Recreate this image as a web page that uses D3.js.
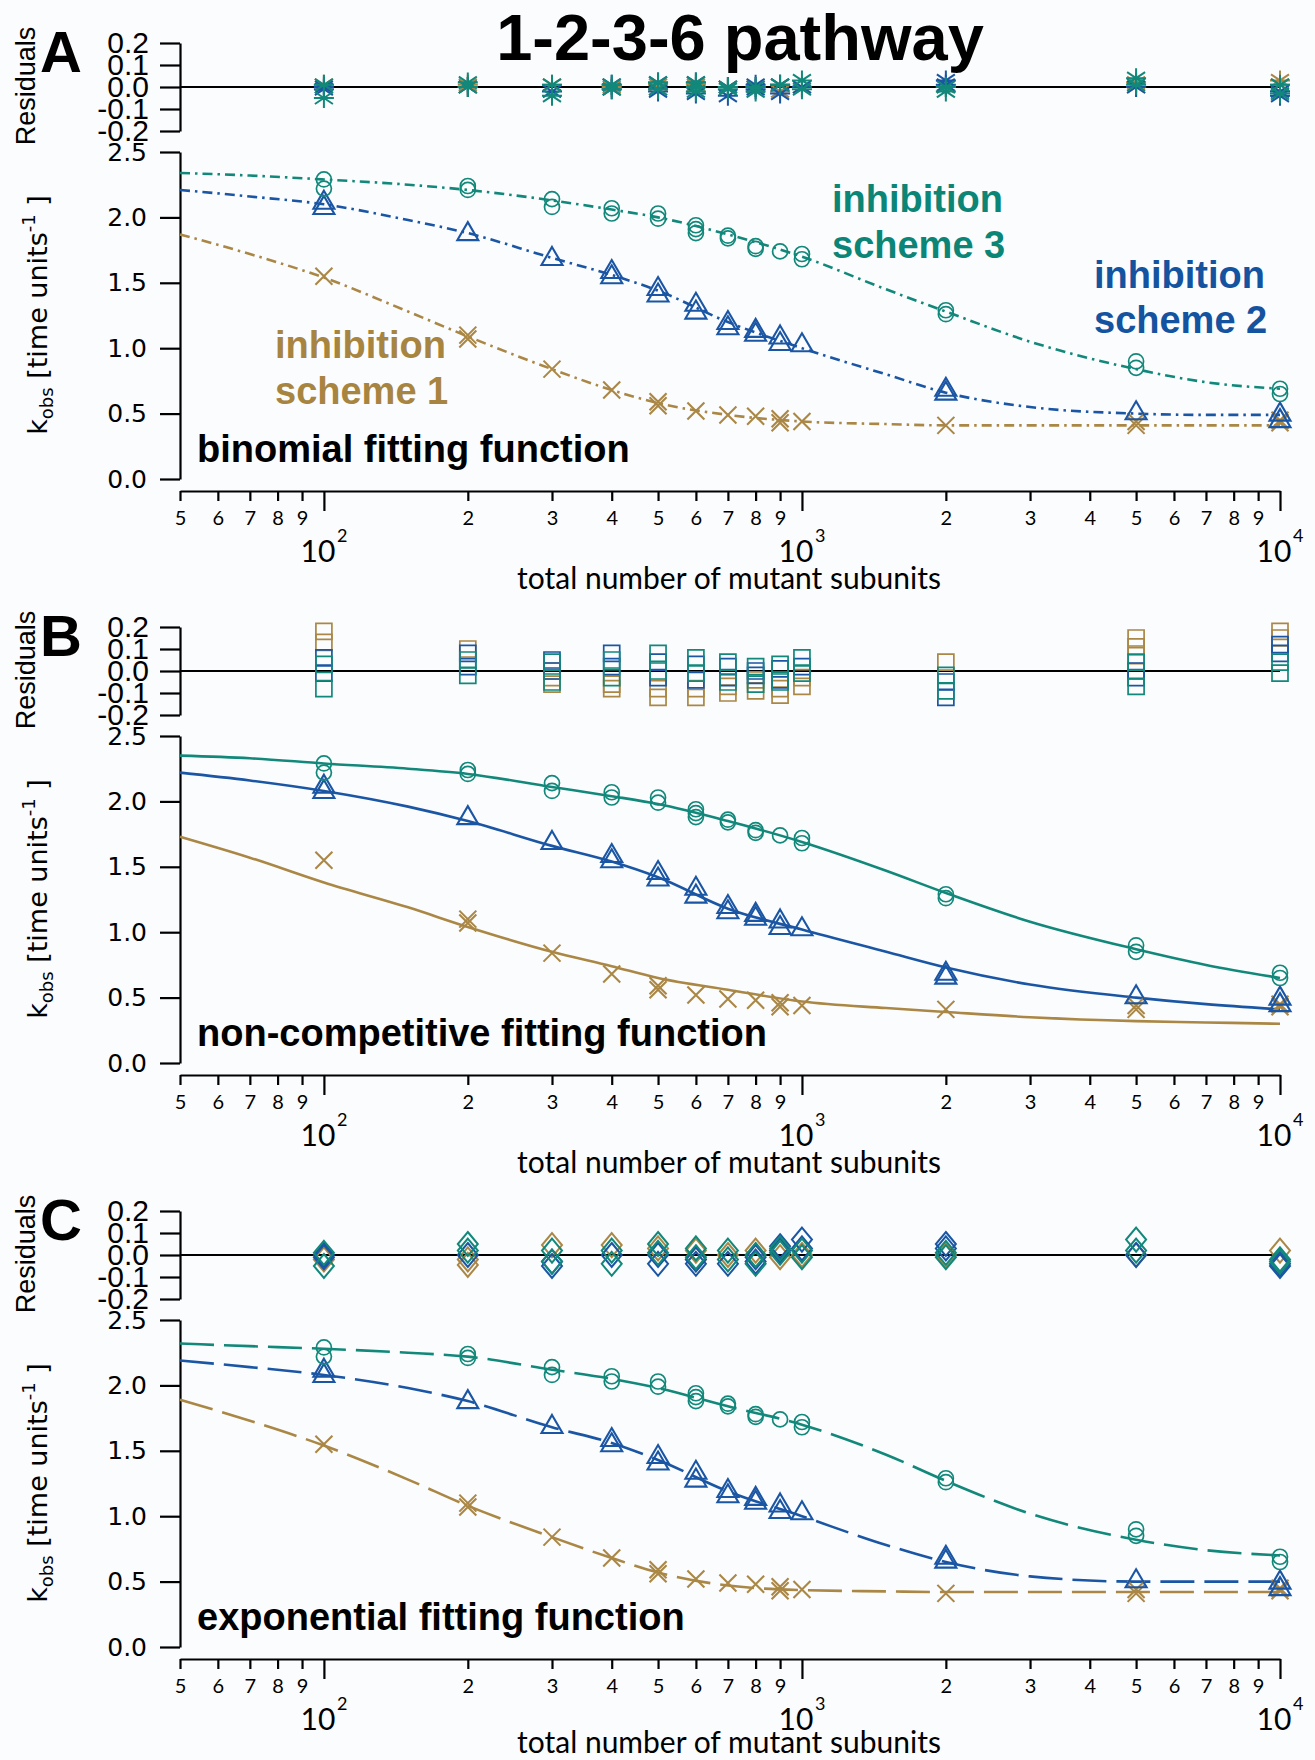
<!DOCTYPE html>
<html><head><meta charset="utf-8">
<script src="https://cdn.jsdelivr.net/npm/d3@7"></script>
<style>body{margin:0;background:#fbfcfe}svg{display:block}</style>
</head><body>
<svg id="c" width="1315" height="1760"></svg>
<script>
// ---------------- DATA ----------------
const xValues = [100, 200, 300, 400, 500, 600, 700, 800, 900, 1000, 2000, 5000, 10000];

// observed k_obs (replicates) per x, per inhibition scheme
const kobsScheme1 = [[1.55],[1.10,1.07],[0.84],[0.68],[0.59,0.56],[0.52],[0.49],[0.48],[0.46,0.43],[0.44],[0.41],[0.44,0.41],[0.45,0.43]];
const kobsScheme2 = [[2.12,2.08],[1.88],[1.69],[1.59,1.55],[1.46,1.41],[1.34,1.28],[1.20,1.16],[1.14,1.11],[1.09,1.04],[1.03],[0.69,0.66],[0.51],[0.50,0.45]];
const kobsScheme3 = [[2.29,2.22],[2.24,2.21],[2.14,2.08],[2.07,2.03],[2.03,1.99],[1.94,1.91,1.88],[1.86,1.84],[1.78,1.76],[1.74],[1.72,1.68],[1.29,1.26],[0.90,0.85],[0.69,0.65]];

// fitted curves, read at these x positions
const fitX = [50, 70, 100, 150, 200, 300, 400, 500, 700, 1000, 1500, 2000, 3000, 5000, 7000, 10000];
const fitBinomial1 = [1.87,1.72,1.54,1.28,1.09,0.84,0.68,0.58,0.49,0.44,0.42,0.41,0.41,0.41,0.41,0.41];
const fitBinomial2 = [2.21,2.16,2.10,1.98,1.88,1.69,1.56,1.44,1.20,1.00,0.80,0.66,0.55,0.50,0.49,0.49];
const fitBinomial3 = [2.34,2.32,2.29,2.25,2.21,2.13,2.06,2.00,1.87,1.70,1.45,1.28,1.05,0.84,0.74,0.69];
const fitNoncomp1 = [1.73,1.57,1.38,1.19,1.04,0.85,0.74,0.65,0.56,0.47,0.42,0.39,0.35,0.32,0.31,0.30];
const fitNoncomp2 = [2.22,2.16,2.08,1.96,1.85,1.66,1.54,1.42,1.18,1.02,0.85,0.73,0.60,0.50,0.45,0.41];
const fitNoncomp3 = [2.35,2.33,2.29,2.25,2.21,2.11,2.04,1.98,1.85,1.69,1.47,1.30,1.08,0.87,0.75,0.65];
const fitExp1 = [1.89,1.73,1.54,1.28,1.08,0.84,0.68,0.57,0.47,0.435,0.425,0.42,0.42,0.42,0.42,0.42];
const fitExp2 = [2.19,2.14,2.08,1.98,1.88,1.68,1.56,1.43,1.19,1.00,0.78,0.65,0.54,0.50,0.50,0.50];
const fitExp3 = [2.32,2.30,2.28,2.25,2.22,2.12,2.05,1.98,1.84,1.70,1.47,1.27,1.02,0.82,0.74,0.70];

// residuals (replicates) per x, per scheme, per fitting function
const resBinomial1 = [[0.01],[0.0,0.01],[0.01],[0.0],[0.01,-0.01],[0.01],[0.0],[0.0],[0.01,-0.02],[0.0],[0.0],[0.02,0.0],[0.03,0.01]];
const resBinomial2 = [[0.0,-0.01],[0.0],[-0.02],[0.01,-0.01],[0.02,-0.02],[0.02,-0.03],[0.0,-0.04],[0.01,-0.01],[0.01,-0.03],[0.0],[0.03,0.01],[0.0],[-0.02,-0.04]];
const resBinomial3 = [[0.01,-0.05],[0.02,0.0],[0.01,-0.04],[0.01,-0.01],[0.02,-0.01],[0.02,0.0,-0.02],[0.0,-0.01],[0.0,-0.02],[0.01],[0.03,-0.01],[0.0,-0.02],[0.04,0.01],[0.01,-0.03]];
const resNoncomp1 = [[0.18,0.13],[0.10],[0.0,-0.03,-0.06],[-0.06,-0.08],[-0.08,-0.12],[-0.08,-0.12],[-0.07,-0.10],[-0.04,-0.09],[-0.08,-0.11],[-0.03,-0.07],[0.04],[0.15,0.11,0.07],[0.18,0.15]];
const resNoncomp2 = [[0.06,-0.01],[0.08,0.02],[0.05,0.0],[0.08,0.02],[0.04,-0.03],[0.03,-0.04],[0.02,-0.03],[0.0,-0.02],[0.01,-0.04],[0.02],[-0.05,-0.12],[0.0,-0.03],[0.12,0.08]];
const resNoncomp3 = [[0.03,-0.08],[0.05,-0.02],[0.04,-0.05],[0.05,-0.03],[0.08,0.0],[0.06,-0.01],[0.04,-0.05],[0.02,-0.06],[0.03,-0.05],[0.06,-0.01],[-0.02,-0.09],[0.04,-0.07],[0.04,-0.01]];
const resExp1 = [[-0.02],[-0.02,-0.045],[0.045],[0.045],[0.03],[0.02,-0.02],[0.0],[0.02],[-0.01,0.02],[0.0],[0.0],[0.0],[0.02]];
const resExp2 = [[0.0,-0.01],[0.0],[-0.03,-0.05],[0.0],[0.0,-0.04],[-0.02,-0.04],[-0.04],[-0.01,-0.03],[0.02,0.04],[0.07,0.03],[0.05,0.03],[0.0],[-0.04,-0.05]];
const resExp3 = [[0.01,-0.05],[0.05,0.02],[0.02,-0.03],[0.02,-0.04],[0.05,0.01],[0.03,-0.01],[0.02,-0.02],[0.0,-0.04],[0.03,0.01],[0.02,-0.01],[0.01,-0.01],[0.07,0.02],[-0.02,-0.03]];

// tick values / labels
const mainYTicks = [0, 0.5, 1.0, 1.5, 2.0, 2.5];
const resYTicks = [-0.2, -0.1, 0, 0.1, 0.2];
const minorXTicks = [50,60,70,80,90,200,300,400,500,600,700,800,900,2000,3000,4000,5000,6000,7000,8000,9000];
const decadeXTicks = [100, 1000, 10000];
const decadeExponents = ["2", "3", "4"];
const panelLetters = ["A", "B", "C"];
const fitNames = ["binomial fitting function", "non-competitive fitting function", "exponential fitting function"];
const titleText = "1-2-3-6 pathway";
const xAxisTitle = "total number of mutant subunits";

// ---------------- DRAWING ----------------
const TEAL = "#12887a", BLUE = "#1b56a4", GOLD = "#aa8745";
const svg = d3.select("#c");
svg.append("rect").attr("width", 1315).attr("height", 1760).attr("fill", "#fbfcfe");

const x = d3.scaleLog().domain([50, 10000]).range([180, 1280]);
const STEP = 584;
const ARIAL = "'Liberation Sans', Arial, sans-serif";
const DEJAVU = "'DejaVu Sans', sans-serif";
const LATO = "Lato, 'Open Sans', sans-serif";

const markerPaths = {
  asterisk: "M0,-10V10M-9,-6L9,6M-9,6L9,-6M-10,0H10",
  square: "M-8,-8H8V8H-8Z",
  diamond: "M0,-12L10,0L0,12L-10,0Z",
  triangle: "M0,-11L10.5,7L-10.5,7Z",
  cross: "M-8.5,-8.5L8.5,8.5M-8.5,8.5L8.5,-8.5"
};
const markerWidths = {asterisk: 2, square: 1.7, diamond: 2};

const panels = [
  {fits: [fitBinomial1, fitBinomial2, fitBinomial3], res: [resBinomial1, resBinomial2, resBinomial3], resMarker: "asterisk", dash: "10,5,2.5,5"},
  {fits: [fitNoncomp1, fitNoncomp2, fitNoncomp3], res: [resNoncomp1, resNoncomp2, resNoncomp3], resMarker: "square", dash: null},
  {fits: [fitExp1, fitExp2, fitExp3], res: [resExp1, resExp2, resExp3], resMarker: "diamond", dash: "34,10"}
];
const schemeColors = [GOLD, BLUE, TEAL];
const kobs = [kobsScheme1, kobsScheme2, kobsScheme3];

svg.append("text").attr("x", 740).attr("y", 60).attr("text-anchor", "middle")
  .attr("font-family", ARIAL).attr("font-weight", "bold").attr("font-size", 65).attr("fill", "#000")
  .text(titleText);

panels.forEach((P, p) => {
  const off = p * STEP;
  const g = svg.append("g");
  const yRes = d3.scaleLinear().domain([-0.2, 0.2]).range([131 + off, 43 + off]);
  const yMain = d3.scaleLinear().domain([0, 2.5]).range([479 + off, 152 + off]);

  g.append("text").attr("x", 40).attr("y", 72 + off).attr("font-family", ARIAL).attr("font-weight", "bold")
    .attr("font-size", 58).text(panelLetters[p]);

  // residual axis
  const ra = g.append("g").attr("transform", "translate(180,0)")
    .call(d3.axisLeft(yRes).tickValues(resYTicks).tickSize(20).tickSizeOuter(0).tickPadding(11)
      .tickFormat(d => d.toFixed(1)));
  ra.selectAll("path,line").attr("stroke", "#000").attr("stroke-width", 2.2);
  ra.selectAll("text").attr("font-family", ARIAL).attr("font-size", 30).attr("fill", "#000");
  g.append("text").attr("transform", `translate(35,${86 + off}) rotate(-90)`).attr("text-anchor", "middle")
    .attr("font-family", ARIAL).attr("font-size", 27).text("Residuals");

  g.append("line").attr("x1", 180).attr("x2", 1280).attr("y1", yRes(0)).attr("y2", yRes(0))
    .attr("stroke", "#000").attr("stroke-width", 2.2);

  P.res.forEach((series, s) => {
    series.forEach((reps, i) => {
      reps.forEach(v => {
        g.append("path").attr("d", markerPaths[P.resMarker])
          .attr("transform", `translate(${x(xValues[i])},${yRes(v)})`)
          .attr("fill", "none").attr("stroke", schemeColors[s]).attr("stroke-width", markerWidths[P.resMarker]);
      });
    });
  });

  // main axis
  const ma = g.append("g").attr("transform", "translate(180,0)")
    .call(d3.axisLeft(yMain).tickValues(mainYTicks).tickSize(20).tickSizeOuter(0).tickPadding(13)
      .tickFormat(d => d.toFixed(1)));
  ma.selectAll("path,line").attr("stroke", "#000").attr("stroke-width", 2.2);
  ma.selectAll("text").attr("font-family", DEJAVU).attr("font-size", 25).attr("fill", "#000");

  const yl = g.append("text").attr("transform", `translate(47,${315 + off}) rotate(-90)`).attr("text-anchor", "middle")
    .attr("font-family", DEJAVU).attr("font-size", 27).attr("fill", "#000");
  yl.append("tspan").text("k");
  yl.append("tspan").attr("font-size", 18).attr("dy", 6).text("obs");
  yl.append("tspan").attr("dy", -6).text(" [time units");
  yl.append("tspan").attr("font-size", 18).attr("dy", -12).text("-1");
  yl.append("tspan").attr("dy", 12).text(" ]");

  // x axis
  const xa = g.append("g").attr("transform", `translate(0,${491 + off})`)
    .call(d3.axisBottom(x).tickValues(minorXTicks.concat(decadeXTicks)).tickSize(10).tickSizeOuter(0).tickPadding(10)
      .tickFormat(d => decadeXTicks.includes(d) ? "" : String(d).charAt(0)));
  xa.selectAll("path,line").attr("stroke", "#000").attr("stroke-width", 2.2);
  xa.selectAll(".tick").filter(d => decadeXTicks.includes(d)).select("line").attr("y2", 20);
  xa.selectAll("text").attr("font-family", LATO).attr("font-size", 20).attr("fill", "#000");

  decadeXTicks.forEach((d, i) => {
    g.append("text").attr("x", x(d) - 6).attr("y", 562 + off).attr("text-anchor", "middle")
      .attr("font-family", LATO).attr("font-size", 30).text("10");
    g.append("text").attr("x", x(d) + 13).attr("y", 542 + off)
      .attr("font-family", LATO).attr("font-size", 18).text(decadeExponents[i]);
  });
  g.append("text").attr("x", 729).attr("y", Math.min(589 + off, 1753)).attr("text-anchor", "middle")
    .attr("font-family", LATO).attr("font-size", 30).text(xAxisTitle);

  // fit curves
  P.fits.forEach((f, s) => {
    const line = d3.line().x((d, i) => x(fitX[i])).y(d => yMain(d)).curve(d3.curveMonotoneX);
    g.append("path").attr("d", line(f)).attr("fill", "none").attr("stroke", schemeColors[s])
      .attr("stroke-width", 2.6).attr("stroke-dasharray", P.dash);
  });

  // data markers
  const mk = ["cross", "triangle", null];
  kobs.forEach((series, s) => {
    series.forEach((reps, i) => {
      reps.forEach(v => {
        if (s === 2) {
          g.append("circle").attr("cx", x(xValues[i])).attr("cy", yMain(v)).attr("r", 7.5)
            .attr("fill", "none").attr("stroke", schemeColors[s]).attr("stroke-width", 1.7);
        } else {
          g.append("path").attr("d", markerPaths[mk[s]])
            .attr("transform", `translate(${x(xValues[i])},${yMain(v)})`)
            .attr("fill", "none").attr("stroke", schemeColors[s]).attr("stroke-width", 2.1);
        }
      });
    });
  });

  g.append("text").attr("x", 197).attr("y", 462 + off).attr("font-family", ARIAL).attr("font-weight", "bold")
    .attr("font-size", 38).attr("fill", "#000").text(fitNames[p]);
});

// scheme labels (panel A)
const schemeLabels = [
  {lines: ["inhibition", "scheme 3"], x: 832, y: [212, 258], color: "#0b8576"},
  {lines: ["inhibition", "scheme 2"], x: 1094, y: [288, 333], color: "#14539f"},
  {lines: ["inhibition", "scheme 1"], x: 275, y: [358, 404], color: "#a7843f"}
];
schemeLabels.forEach(L => {
  L.lines.forEach((t, i) => {
    svg.append("text").attr("x", L.x).attr("y", L.y[i]).attr("font-family", ARIAL).attr("font-weight", "bold")
      .attr("font-size", 38).attr("fill", L.color).text(t);
  });
});
</script>
</body></html>
